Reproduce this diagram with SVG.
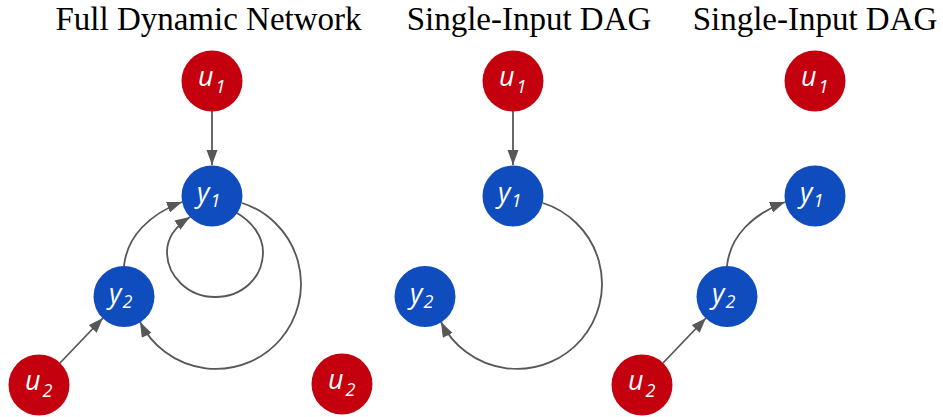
<svg xmlns="http://www.w3.org/2000/svg" width="943" height="417" viewBox="0 0 943 417">
  <style>
    .title { font-family: "Liberation Serif", "Times New Roman", serif; font-size: 33px; fill: #000; }
    .in { fill: #c4000f; }
    .out { fill: #0f4cbe; }
    .lbl { font-family: "Open Sans", "Noto Sans", sans-serif; font-style: italic; font-size: 27px; fill: #fff; }
    .sub { font-size: 18px; }
    .edge { fill: none; stroke: #575757; stroke-width: 1.8; }
  </style>
  <defs>
    <marker id="arrow" markerUnits="userSpaceOnUse" markerWidth="16" markerHeight="12" refX="15" refY="5.5" orient="auto">
      <path d="M0,0 L15,5.5 L0,11 z" fill="#575757"/>
    </marker>
  </defs>

  <rect width="943" height="417" fill="#fff"/>

  <!-- panel titles -->
  <text class="title" x="208.5" y="30" text-anchor="middle">Full Dynamic Network</text>
  <text class="title" x="529" y="30" text-anchor="middle">Single-Input DAG</text>
  <text class="title" x="815" y="30" text-anchor="middle">Single-Input DAG</text>

  <!-- connectors -->
  <g id="connectors" class="edge" marker-end="url(#arrow)">
    <!-- panel 1 -->
    <path id="p1-u1-y1" d="M212 111 L212 165"/>
    <path id="p1-y1-self" d="M237 213 C252 222, 263 236, 263 252 C263 278, 242 297, 215 297 C188 297, 167 276, 167 252 C167 238, 176 226, 190 217"/>
    <path id="p1-y1-y2" d="M242 203 A85 85 0 1 1 140 322"/>
    <path id="p1-y2-y1" d="M124 266 C127 236, 150 214, 182 202"/>
    <path id="p1-u2-y2" d="M60 363 L103 318"/>
    <!-- panel 2 -->
    <path id="p2-u1-y1" d="M513 111 L513 165"/>
    <path id="p2-y1-y2" d="M543 203 A85 85 0 1 1 441 322"/>
    <!-- panel 3 -->
    <path id="p3-u2-y2" d="M663 363 L706 318"/>
    <path id="p3-y2-y1" d="M727 266 C730 236, 753 214, 785 202"/>
  </g>

  <!-- panel 1 nodes -->
  <g id="p1-u1">
    <circle class="in" cx="212" cy="81" r="30.5"/>
    <text class="lbl" x="198" y="86">u<tspan class="sub" dx="2" dy="7">1</tspan></text>
  </g>
  <g id="p1-y1">
    <circle class="out" cx="212" cy="196" r="30.5"/>
    <text class="lbl" x="197" y="202">y<tspan class="sub" dx="1" dy="5">1</tspan></text>
  </g>
  <g id="p1-y2">
    <circle class="out" cx="124" cy="296.5" r="30.5"/>
    <text class="lbl" x="109" y="302.5">y<tspan class="sub" dx="1" dy="5">2</tspan></text>
  </g>
  <g id="p1-u2a">
    <circle class="in" cx="39" cy="385" r="30.5"/>
    <text class="lbl" x="25" y="390">u<tspan class="sub" dx="2" dy="7">2</tspan></text>
  </g>
  <g id="p1-u2b">
    <circle class="in" cx="342" cy="384" r="30.5"/>
    <text class="lbl" x="328" y="389">u<tspan class="sub" dx="2" dy="7">2</tspan></text>
  </g>

  <!-- panel 2 nodes -->
  <g id="p2-u1">
    <circle class="in" cx="513" cy="81" r="30.5"/>
    <text class="lbl" x="499" y="86">u<tspan class="sub" dx="2" dy="7">1</tspan></text>
  </g>
  <g id="p2-y1">
    <circle class="out" cx="513" cy="196" r="30.5"/>
    <text class="lbl" x="498" y="202">y<tspan class="sub" dx="1" dy="5">1</tspan></text>
  </g>
  <g id="p2-y2">
    <circle class="out" cx="425" cy="296.5" r="30.5"/>
    <text class="lbl" x="410" y="302.5">y<tspan class="sub" dx="1" dy="5">2</tspan></text>
  </g>

  <!-- panel 3 nodes -->
  <g id="p3-u1">
    <circle class="in" cx="815" cy="81" r="30.5"/>
    <text class="lbl" x="801" y="86">u<tspan class="sub" dx="2" dy="7">1</tspan></text>
  </g>
  <g id="p3-y1">
    <circle class="out" cx="815" cy="196" r="30.5"/>
    <text class="lbl" x="800" y="202">y<tspan class="sub" dx="1" dy="5">1</tspan></text>
  </g>
  <g id="p3-y2">
    <circle class="out" cx="727" cy="296.5" r="30.5"/>
    <text class="lbl" x="712" y="302.5">y<tspan class="sub" dx="1" dy="5">2</tspan></text>
  </g>
  <g id="p3-u2">
    <circle class="in" cx="642" cy="385" r="30.5"/>
    <text class="lbl" x="628" y="390">u<tspan class="sub" dx="2" dy="7">2</tspan></text>
  </g>
</svg>
